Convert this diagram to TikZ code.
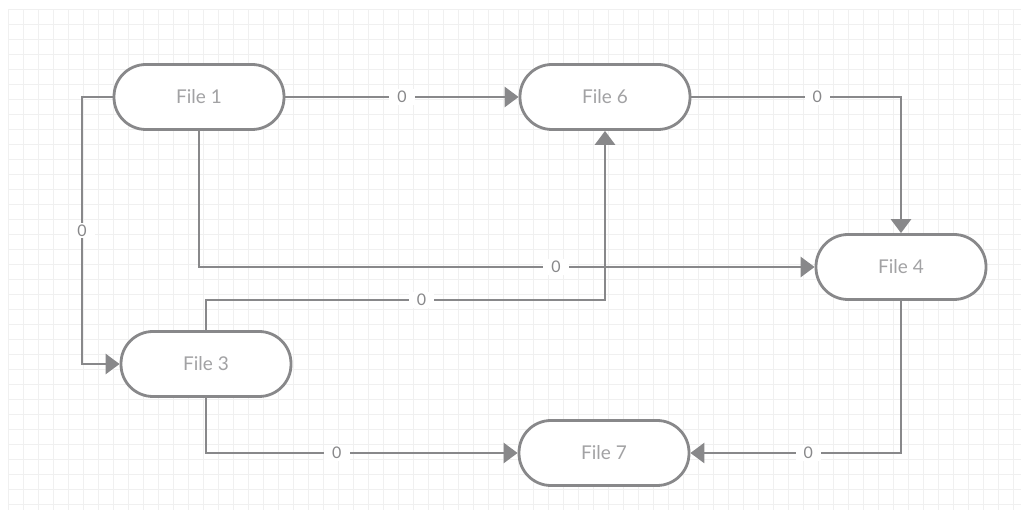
\documentclass[tikz,border=0pt]{standalone}
\usepackage{fontspec}
\setmainfont{Lato}
\usetikzlibrary{arrows.meta}
\definecolor{edgegray}{HTML}{88888A}
\definecolor{textgray}{HTML}{A2A2A4}
\definecolor{gridgray}{HTML}{F0F0F0}
\tikzset{
    file/.style = {draw = edgegray, line width = 2.8pt, fill = white, rounded corners = 32pt,
                   minimum width = 170pt, minimum height = 65pt, text = textgray,
                   font = \fontsize{19}{22}\selectfont},
    link/.style = {draw = edgegray, line width = 2.8pt, -{Triangle[length = 14pt, width = 20pt]}},
    weight/.style = {fill = white, text = edgegray, inner xsep = 8pt, inner ysep = 2pt,
                     font = \fontsize{16}{19}\selectfont}
}
\begin{document}
\begin{tikzpicture}[x = 1pt, y = -1pt]
            \useasboundingbox (0, 0) rectangle (1021, 510);
            \fill [white] (0, 0) rectangle (1021, 510);
            \foreach \gx in {8, 23, ..., 1020}
                \draw [gridgray, line width = 1pt] (\gx, 10) -- (\gx, 510);
            \foreach \gy in {10, 25, ..., 509}
                \draw [gridgray, line width = 1pt] (8, \gy) -- (1021, \gy);

            \node [file] (f1) at (199, 97) {File 1};
            \node [file] (f6) at (605, 97) {File 6};
            \node [file] (f4) at (901, 267) {File 4};
            \node [file] (f3) at (206, 364) {File 3};
            \node [file] (f7) at (604, 453) {File 7};
            \coordinate (leftrail) at (82, 0);
            \coordinate (midrail) at (0, 300);

            \draw [link] (f1.east) -- node [weight] {0} (f6.west);
            \draw [link] (f6.east) -| node [weight, pos = 0.3] {0} (f4.north);
            \draw [link] (f1.south) |- node [weight, pos = 0.79] {0} (f4.west);
            \draw [link] (f1.west) -- (f1.west -| leftrail) |- node [weight, pos = 0.25] {0} (f3.west);
            \draw [link] (f3.north) -- (f3.north |- midrail) -| node [weight, pos = 0.27] {0} (f6.south);
            \draw [link] (f3.south) |- node [weight, pos = 0.71] {0} (f7.west);
            \draw [link] (f4.south) |- node [weight, pos = 0.72] {0} (f7.east);
        \end{tikzpicture}
\end{document}
